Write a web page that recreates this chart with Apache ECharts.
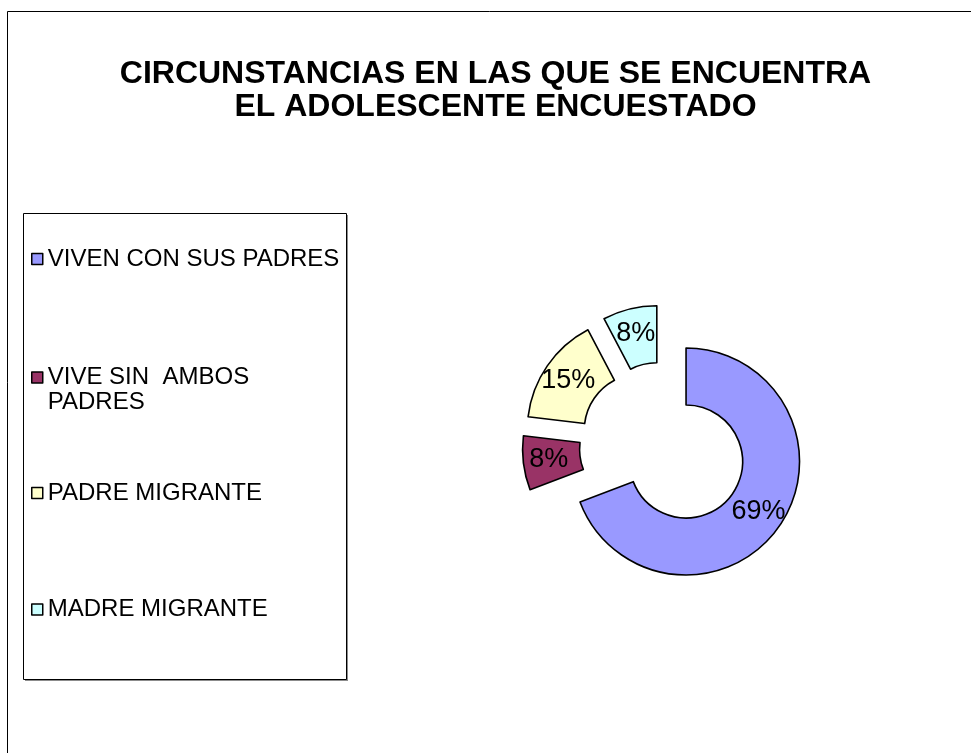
<!DOCTYPE html>
<html>
<head>
<meta charset="utf-8">
<script src="https://cdn.jsdelivr.net/npm/echarts@6/dist/echarts.min.js"></script>
<style>
html,body{margin:0;padding:0;background:#fff;}
#chart{width:971px;height:753px;}
</style>
</head>
<body>
<div id="chart"></div>
<script>
var titleText = 'CIRCUNSTANCIAS EN LAS QUE SE ENCUENTRA\nEL ADOLESCENTE ENCUESTADO';
var categories = ['VIVEN CON SUS PADRES', 'VIVE SIN  AMBOS PADRES', 'PADRE MIGRANTE', 'MADRE MIGRANTE'];
var legendLabels = ['VIVEN CON SUS PADRES', '\nVIVE SIN  AMBOS\nPADRES', 'PADRE MIGRANTE', 'MADRE MIGRANTE'];
var values = [69.2, 7.7, 15.4, 7.7];
var colors = ['#9999FF', '#993366', '#FFFFCC', '#CCFFFF'];

var FONT = '"Liberation Sans", Arial, sans-serif';
var chart = echarts.init(document.getElementById('chart'), null, {renderer: 'canvas'});

var legendTops = [246.5, 340, 480.5, 597];
var legends = categories.map(function (name, i) {
  return {
    data: [name],
    orient: 'vertical',
    left: 31,
    top: legendTops[i],
    padding: 0,
    itemGap: 0,
    itemWidth: 11,
    itemHeight: 11,
    icon: 'rect',
    selectedMode: false,
    itemStyle: {borderColor: '#000', borderWidth: 1.5},
    formatter: function (n) { return legendLabels[categories.indexOf(n)]; },
    textStyle: {fontFamily: FONT, fontSize: 24, color: '#000', lineHeight: 25}
  };
});

var option = {
  animation: false,
  backgroundColor: '#fff',
  title: {
    text: titleText,
    left: 495.5,
    textAlign: 'center',
    top: 57.5,
    padding: 0,
    textStyle: {fontFamily: FONT, fontSize: 32, fontWeight: 'bold', color: '#000', lineHeight: 33}
  },
  graphic: [
    {type: 'rect', z: 0, shape: {x: 7.5, y: 11.5, width: 2000, height: 2000},
     style: {fill: 'none', stroke: '#000', lineWidth: 1}},
    {type: 'rect', z: 0, shape: {x: 25, y: 215, width: 323, height: 466},
     style: {fill: '#8c8c8c', stroke: 'none'}},
    {type: 'rect', z: 1, shape: {x: 23.5, y: 213.5, width: 323, height: 466},
     style: {fill: '#fff', stroke: '#000', lineWidth: 1}}
  ],
  legend: legends,
  series: [{
    type: 'pie',
    center: [663.4, 445.9],
    radius: [56.5, 113.5],
    startAngle: 90,
    clockwise: true,
    selectedMode: 'multiple',
    selectedOffset: 27.5,
    percentPrecision: 0,
    avoidLabelOverlap: false,
    silent: true,
    emphasis: {scale: false},
    itemStyle: {borderColor: '#000', borderWidth: 1.6},
    label: {
      show: true,
      position: 'inside',
      formatter: '{d}%',
      fontFamily: FONT,
      fontSize: 27,
      color: '#000'
    },
    labelLine: {show: false},
    data: categories.map(function (name, i) {
      return {name: name, value: values[i], selected: true, itemStyle: {color: colors[i]}};
    })
  }]
};
chart.setOption(option);
</script>
</body>
</html>
